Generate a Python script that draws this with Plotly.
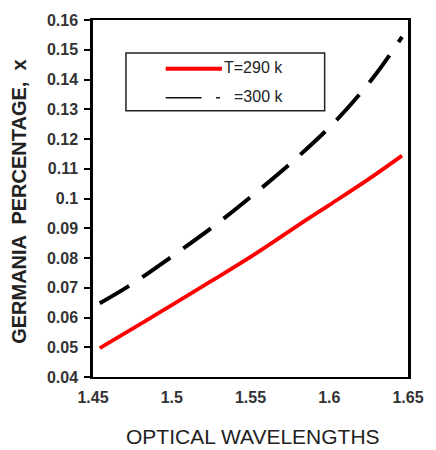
import plotly.graph_objects as go

# Optical wavelength (µm) and germania fraction for two temperatures
wl_290 = [1.4543, 1.4832, 1.50, 1.525, 1.5528, 1.5854, 1.60, 1.625, 1.6462]
ge_290 = [0.0497, 0.0588, 0.0642, 0.0722, 0.0813, 0.0928, 0.0978, 0.1065, 0.1144]

wl_300 = [1.4543, 1.4734, 1.5011, 1.5282, 1.5528, 1.5803, 1.6049, 1.6277, 1.6462]
ge_300 = [0.0648, 0.0708, 0.0809, 0.0913, 0.1017, 0.1141, 0.1265, 0.1405, 0.1543]

x_ticks = [1.45, 1.5, 1.55, 1.6, 1.65]
y_ticks = [0.04, 0.05, 0.06, 0.07, 0.08, 0.09, 0.10, 0.11, 0.12, 0.13, 0.14, 0.15, 0.16]
y_tick_text = ["0.04", "0.05", "0.06", "0.07", "0.08", "0.09", "0.1",
               "0.11", "0.12", "0.13", "0.14", "0.15", "0.16"]

FONT = "Liberation Sans, Arial"

fig = go.Figure()
fig.add_trace(go.Scatter(x=wl_290, y=ge_290, mode="lines", name="T=290 k",
                         line=dict(color="#ff0000", width=3.8, shape="spline", smoothing=1.0),
                         showlegend=False))
fig.add_trace(go.Scatter(x=wl_300, y=ge_300, mode="lines", name="=300 k",
                         line=dict(color="#000000", width=4, dash="34px,16px",
                                   shape="spline", smoothing=1.0),
                         showlegend=False))

W, H = 436, 450
ml, mr, mt, mb = 93, 18, 19, 73
pw, ph = W - ml - mr, H - mt - mb


def px(x):
    return (x - ml) / pw


def py(y):
    return 1 - (y - mt) / ph


# Legend box drawn in paper coordinates
shapes = [
    dict(type="rect", xref="paper", yref="paper", x0=px(127), x1=px(332), y0=py(110), y1=py(52),
         line=dict(color="#222222", width=1.5), fillcolor="white", layer="above"),
    dict(type="line", xref="paper", yref="paper", x0=px(168), x1=px(226), y0=py(68), y1=py(68),
         line=dict(color="#ff0000", width=4), layer="above"),
    dict(type="line", xref="paper", yref="paper", x0=px(168), x1=px(205), y0=py(97), y1=py(97),
         line=dict(color="#111111", width=1.5), layer="above"),
    dict(type="line", xref="paper", yref="paper", x0=px(220), x1=px(224), y0=py(97), y1=py(97),
         line=dict(color="#111111", width=1.5), layer="above"),
]
legend_font = dict(family=FONT, size=16, color="#222222")
annotations = [
    dict(xref="paper", yref="paper", x=px(226), y=py(67), text="T=290 k", showarrow=False,
         xanchor="left", yanchor="middle", font=legend_font),
    dict(xref="paper", yref="paper", x=px(236), y=py(96), text="=300 k", showarrow=False,
         xanchor="left", yanchor="middle", font=legend_font),
    # axis titles
    dict(xref="paper", yref="paper", x=px(258), y=py(437), text="OPTICAL WAVELENGTHS",
         showarrow=False, xanchor="center", yanchor="middle",
         font=dict(family=FONT, size=21, color="#222222")),
    dict(xref="paper", yref="paper", x=px(17), y=py(201), text="GERMANIA  PERCENTAGE,  x",
         showarrow=False, xanchor="center", yanchor="middle", textangle=-90,
         font=dict(family=FONT, size=20, color="#222222", weight="bold")),
]

tick_font = dict(family=FONT, size=16, color="#333333", weight="bold")

fig.update_layout(
    width=W, height=H,
    margin=dict(l=ml, r=mr, t=mt, b=mb),
    paper_bgcolor="white", plot_bgcolor="white",
    shapes=shapes, annotations=annotations,
    xaxis=dict(range=[1.45, 1.65], tickvals=x_ticks, ticktext=[str(v) for v in x_ticks],
               showgrid=False, zeroline=False, showline=True, linecolor="black", linewidth=2,
               mirror=True, ticks="inside", ticklen=3, tickwidth=2, tickcolor="white",
               ticklabelstandoff=5, tickfont=tick_font),
    yaxis=dict(range=[0.04, 0.16], tickvals=y_ticks, ticktext=y_tick_text,
               showgrid=False, zeroline=False, showline=True, linecolor="black", linewidth=2.5,
               mirror=True, ticks="outside", ticklen=6, tickcolor="black", tickwidth=1.5,
               ticklabelstandoff=3, tickfont=tick_font),
)

fig.write_html("out.html")
